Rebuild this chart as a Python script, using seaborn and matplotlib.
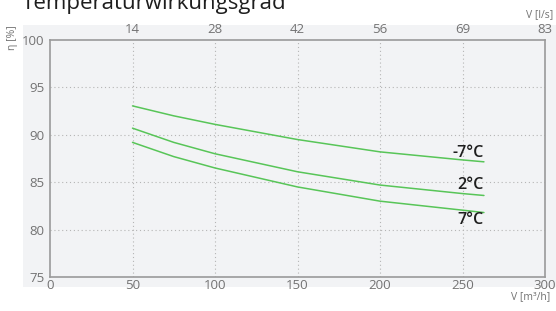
import pandas as pd
import numpy as np
import seaborn as sns
import matplotlib.pyplot as plt
from matplotlib.patches import Rectangle

# --- data ---
airflow_m3h = [50, 75, 100, 150, 200, 250, 263]
eff_minus7 = [93.05, 92.0, 91.1, 89.5, 88.2, 87.35, 87.15]
eff_plus2 = [90.7, 89.2, 88.0, 86.1, 84.7, 83.8, 83.6]
eff_plus7 = [89.2, 87.7, 86.5, 84.5, 83.0, 82.05, 81.8]
series_names = ["-7°C", "2°C", "7°C"]

x_ticks = [0, 50, 100, 150, 200, 250, 300]
top_tick_pos = [50, 100, 150, 200, 250, 300]
top_tick_labels = ["14", "28", "42", "56", "69", "83"]
y_ticks = [75, 80, 85, 90, 95, 100]

df = pd.DataFrame({
    "V": airflow_m3h * 3,
    "eta": eff_minus7 + eff_plus2 + eff_plus7,
    "temp": np.repeat(series_names, len(airflow_m3h)),
})

PANEL = "#f2f3f5"
GREEN = "#58c558"
TICK = "#737373"
SPINE = "#9a9a9a"

sns.set_style("white")
plt.rcParams["font.family"] = ["Open Sans", "DejaVu Sans"]

W, H = 556, 311
fig = plt.figure(figsize=(W / 100, H / 100), dpi=100)

# grey panel behind the plot
fig.patches.append(Rectangle((23 / W, (H - 287) / H), 1 - 23 / W, (287 - 25) / H,
                             transform=fig.transFigure, facecolor=PANEL,
                             edgecolor="none", zorder=-5))

ax = fig.add_axes([50 / W, (H - 277) / H, 495 / W, 237 / H])
ax.set_facecolor(PANEL)

sns.lineplot(data=df, x="V", y="eta", hue="temp", units="temp", estimator=None,
             palette=[GREEN] * 3, linewidth=1.1, legend=False, ax=ax)

ax.set_xlim(0, 300)
ax.set_ylim(75, 100)
ax.set_xticks(x_ticks)
ax.set_yticks(y_ticks)
ax.set_xlabel("")
ax.set_ylabel("")
ax.tick_params(axis="both", length=0, labelsize=9.5, colors=TICK)
ax.tick_params(axis="x", pad=1.5)
ax.tick_params(axis="y", pad=4)

for v in x_ticks[1:-1]:
    ax.axvline(v, color="#b5b5b5", lw=0.8, ls=(0, (1, 2.5)), zorder=0)
for v in y_ticks[1:-1]:
    ax.axhline(v, color="#b5b5b5", lw=0.8, ls=(0, (1, 2.5)), zorder=0)

for s in ax.spines.values():
    s.set_color(SPINE)
    s.set_linewidth(1.2)

# top axis in l/s
ax_top = ax.twiny()
ax_top.set_xlim(ax.get_xlim())
ax_top.set_xticks(top_tick_pos)
ax_top.set_xticklabels(top_tick_labels)
ax_top.tick_params(axis="x", length=0, labelsize=9.5, colors=TICK, pad=3)
for s in ax_top.spines.values():
    s.set_visible(False)

# curve labels at line ends
label_offsets = {"-7°C": 6.5, "2°C": 7.5, "7°C": -5.5}
ends = {"-7°C": eff_minus7[-1], "2°C": eff_plus2[-1], "7°C": eff_plus7[-1]}
for name in series_names:
    ax.annotate(name, (airflow_m3h[-1], ends[name]), xytext=(0, label_offsets[name]),
                textcoords="offset points", ha="right", va="center",
                fontsize=11.5, color="#1e1e1e", fontweight="semibold")

fig.text(22 / W, 1 - 9 / H, "Temperaturwirkungsgrad", fontsize=16,
         color="#1e1e1e", ha="left", va="baseline")
fig.text(12 / W, 1 - 38 / H, "η [%]", rotation=90, fontsize=7.5, color=TICK,
         ha="center", va="center")
fig.text(553 / W, 1 - 15 / H, "V [l/s]", fontsize=7.5, color=TICK,
         ha="right", va="center")
fig.text(550 / W, 1 - 297 / H, "V [m³/h]", fontsize=7.5, color=TICK,
         ha="right", va="center")

fig.savefig("out.png", dpi=100, facecolor="white")
